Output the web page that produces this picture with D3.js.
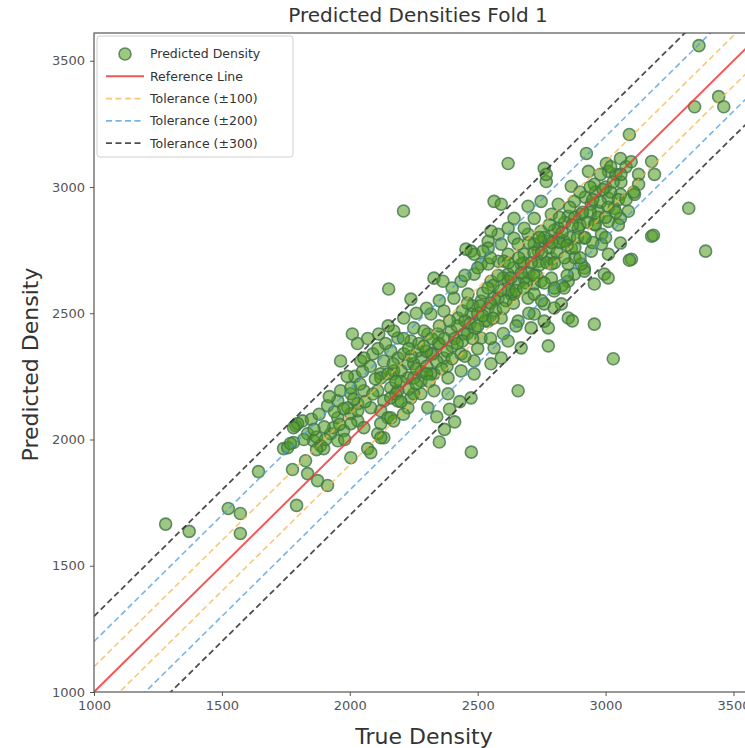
<!DOCTYPE html>
<html>
<head>
<meta charset="utf-8">
<script src="https://cdn.jsdelivr.net/npm/d3@7"></script>
<style>
  body { margin: 0; background: #fff; }
  svg { font-family: "DejaVu Sans", sans-serif; }
</style>
</head>
<body>
<svg id="chart" width="745" height="748"></svg>
<script>
// [true density, predicted density]
var densityPairs = [
  [1280,1665],[1372,1636],[1525,1727],[1572,1707],[1572,1628],[1643,1873],[1741,1964],[1780,1988],
  [1776,1881],[1792,1739],[1788,2055],[1815,2074],[1796,2063],[1780,2047],[1835,2023],[1858,1995],
  [1886,1976],[1898,1964],[1757,1968],[1768,1984],[1827,1916],[1835,1865],[1874,1837],[1913,1818],
  [2004,1928],[2070,1964],[2082,1948],[2109,2023],[2133,2007],[1925,2023],[1953,1995],[1870,2010],
  [1937,2047],[1976,2035],[1953,2086],[2004,2102],[2031,2074],[1913,2134],[1953,2153],[1964,2193],
  [2004,2181],[1992,2126],[2031,2142],[2043,2311],[2090,2339],[2010,2418],[2113,2418],[2188,2402],
  [2239,2390],[2305,2418],[2345,2379],[2133,2311],[2188,2323],[2227,2300],[2278,2323],[2325,2339],
  [2121,2260],[2168,2260],[2227,2244],[2278,2232],[2329,2260],[2109,2193],[2160,2205],[2133,2153],
  [2188,2153],[2239,2165],[2278,2181],[2121,2114],[2149,2086],[2172,2074],[2227,2126],[2305,2126],
  [1964,2311],[2055,2323],[2004,2205],[2055,2193],[2121,2244],[2172,2272],[1976,2122],[2031,2114],
  [2082,2126],[2160,2165],[2004,2063],[2055,2047],[2121,2063],[2160,2086],[2121,2007],
  [2580,2813],[2642,2797],[2697,2813],[2748,2785],[2815,2797],[2866,2758],[2474,2746],[2541,2785],
  [2513,2695],[2580,2706],[2619,2734],[2682,2734],[2737,2746],[2788,2718],[2854,2695],[2435,2627],
  [2486,2655],[2552,2627],[2619,2655],[2682,2639],[2721,2616],[2788,2639],[2854,2627],[2407,2560],
  [2462,2576],[2513,2548],[2564,2560],[2631,2576],[2697,2560],[2760,2537],[2827,2537],[2854,2481],
  [2317,2497],[2368,2509],[2423,2481],[2474,2497],[2541,2469],[2592,2481],[2658,2469],[2709,2442],
  [2776,2442],[2211,2481],[2250,2442],[2172,2430],[2290,2430],[2345,2418],[2396,2430],[2446,2418],
  [2513,2402],[2564,2363],[2619,2390],[2670,2363],[2160,2351],[2211,2339],[2266,2351],[2317,2339],
  [2368,2323],[2435,2339],[2486,2311],[2552,2300],[2592,2323],[2149,2260],[2200,2272],[2250,2244],
  [2317,2260],[2384,2244],[2435,2272],[2486,2260],[2188,2193],[2250,2181],[2329,2193],[2384,2181],
  [2776,2371],[2658,2193],[2474,2165],[2152,2596],[2239,2556],[2329,2639],[2364,2627],
  [2760,3074],[2768,3022],[3093,3208],[2925,3133],[3003,3093],[3011,3062],[3058,3113],[2933,3062],
  [3129,3050],[3180,3101],[3191,3050],[3129,3011],[2866,3003],[2956,3011],[2564,2943],[2592,2932],
  [2697,2924],[2748,2943],[2815,2932],[2878,2943],[2944,2932],[3011,2955],[3058,2971],[3113,2971],
  [2642,2876],[2721,2876],[2788,2892],[2854,2884],[2905,2892],[2972,2904],[3034,2916],[3089,2904],
  [2552,2825],[2619,2837],[2682,2837],[2748,2825],[2815,2837],[2893,2837],[2956,2853],[3011,2864],
  [3058,2876],[2541,2758],[2592,2774],[2658,2774],[2721,2774],[2776,2785],[2838,2785],[2917,2797],
  [2984,2813],[3180,2805],[3058,2778],[3101,2714],[3011,2734],[2944,2746],[2880,2720],[2878,2655],
  [2830,2610],[2799,2588],[2995,2655],[2917,2679],[2541,2695],[2603,2706],[2670,2695],[2737,2706],
  [2788,2695],[2619,2627],[2748,2627],[2642,2576],[2721,2576],
  [3365,3560],[3348,3318],[3442,3358],[3462,3318],[3325,2916],[3391,2746],[3187,2809],[3093,2710],
  [3010,2640],[2956,2457],[2870,2470],[2917,2667],[2956,2616],[2838,2600],[2984,2774],[2905,2695],
  [2799,2521],[2760,2469],[2721,2497],[3030,2320],[2475,1950],[2619,3093],[2210,2905],[2768,3050],
  [2486,2734],[2454,2754],[2521,2746],
  [2340,2090],[2390,2120],[2430,2150],[2370,2040],[2410,2070],[2350,1990],
  [2250,2300],[2280,2270],[2300,2350],[2350,2380],[2370,2400],[2400,2370],[2420,2450],[2450,2470],
  [2460,2420],[2480,2530],[2500,2500],[2520,2580],[2540,2520],[2560,2610],[2580,2560],[2600,2640],
  [2620,2590],[2640,2680],[2660,2620],[2680,2700],[2700,2660],[2720,2740],[2740,2690],[2760,2800],
  [2780,2760],[2800,2830],[2820,2780],[2840,2860],[2860,2800],[2880,2880],[2900,2850],[2920,2960],
  [2940,2900],[2960,2980],[2980,2940],[3000,3000],[3020,2980],[3040,3050],[3060,3020],[3080,3080],
  [2200,2230],[2230,2200],[2180,2230],[2260,2280],[2300,2290],[2340,2310],[2380,2350],[2410,2400],
  [2440,2390],[2470,2460],[2490,2440],[2510,2530],[2530,2470],[2550,2540],[2570,2510],[2590,2590],
  [2610,2550],[2630,2640],[2650,2590],[2670,2660],[2690,2620],[2710,2700],[2730,2650],[2750,2740],
  [2770,2700],[2790,2780],[2810,2740],[2830,2820],[2850,2770],[2870,2850],[2890,2800],[2910,2900],
  [2930,2860],[2950,2950],[2970,2880],[2990,2990],[3010,2920],[3030,3020],[3050,2950],
  [2400,2600],[2450,2650],[2350,2550],[2300,2520],[2260,2500],[2500,2680],[2550,2720],
  [2600,2420],[2650,2450],[2700,2500],[2750,2550],[2800,2600],[2850,2650],[2900,2720],[2950,2780],
  [3000,2800],[3050,2850],[2550,2400],[2500,2360],[2450,2330],
  [2210,2400],[2240,2330],[2270,2380],[2300,2260],[2320,2400],[2350,2450],[2380,2290],[2390,2470],
  [2230,2360],[2290,2370],[2260,2220],[2310,2230],[2360,2280],[2400,2320],[2420,2380],[2440,2510],
  [2460,2540],[2480,2400],[2500,2450],[2520,2490],[2540,2600],[2560,2480],[2580,2650],[2600,2520],
  [2620,2700],[2640,2540],[2660,2720],[2680,2600],[2700,2780],[2720,2650],[2740,2800],[2760,2620],
  [2780,2850],[2800,2700],[2820,2880],[2840,2720],[2860,2920],[2880,2760],[2900,2980],[2920,2800],
  [2940,3000],[2960,2850],[2980,3050],[3000,2880],[3020,3080],[3040,2900],[3060,3050],[3080,2950],
  [3100,3100],[3110,2980],
  [2020,2250],[2050,2270],[2080,2290],[2100,2240],[2060,2150],[2090,2180],[2110,2360],[2140,2380],
  [2170,2300],[2030,2380],[2070,2400],[2150,2450],[1990,2250],[2015,2160],[2040,2220],[2180,2180],
  [2200,2150],[2210,2100],
  [1850,2080],[1880,2100],[1900,2050],[1920,2170],[1940,2110],[1870,1960],[1905,2000],[1960,2060],
  [1980,2000],[1820,2000],[1860,2040]
];

var xTicks = [1000, 1500, 2000, 2500, 3000, 3500];
var yTicks = [1000, 1500, 2000, 2500, 3000, 3500];
var tolerances = [100, 200, 300];
var legendLabels = ["Predicted Density", "Reference Line", "Tolerance (\u00b1100)", "Tolerance (\u00b1200)", "Tolerance (\u00b1300)"];

var svg = d3.select("#chart"),
    margin = {top: 33, right: 0, bottom: 56, left: 94},
    width = 745 - margin.left - margin.right,
    height = 748 - margin.top - margin.bottom,
    g = svg.append("g").attr("transform", "translate(" + margin.left + "," + margin.top + ")");

var x = d3.scaleLinear().domain([1000, 3545]).range([0, width]);
var y = d3.scaleLinear().domain([1000, 3610]).range([height, 0]);

var ptFill = "#4f9a1c", ptStroke = "#3f7548";

g.append("clipPath").attr("id", "plot-clip")
  .append("rect").attr("width", width).attr("height", height);

var plot = g.append("g").attr("clip-path", "url(#plot-clip)");

plot.selectAll("circle.pt")
  .data(densityPairs)
  .enter().append("circle")
    .attr("class", "pt")
    .attr("cx", function(d) { return x(d[0]); })
    .attr("cy", function(d) { return y(d[1]); })
    .attr("r", 6)
    .attr("fill", ptFill)
    .attr("fill-opacity", 0.55)
    .attr("stroke", ptStroke)
    .attr("stroke-opacity", 0.8)
    .attr("stroke-width", 1.6);

var lineStyles = [
  {k: 0, color: "#ef3b3b", dash: null, w: 2, op: 0.85},
  {k: 100, color: "#f6b64e", dash: "6,3.5", w: 1.6, op: 0.75},
  {k: -100, color: "#f6b64e", dash: "6,3.5", w: 1.6, op: 0.75},
  {k: 200, color: "#4a9bdc", dash: "6,3.5", w: 1.6, op: 0.75},
  {k: -200, color: "#4a9bdc", dash: "6,3.5", w: 1.6, op: 0.75},
  {k: 300, color: "#2f2f2f", dash: "6,3.5", w: 1.8, op: 0.85},
  {k: -300, color: "#2f2f2f", dash: "6,3.5", w: 1.8, op: 0.85}
];

plot.selectAll("line.ref")
  .data(lineStyles)
  .enter().append("line")
    .attr("class", "ref")
    .attr("x1", x(1000)).attr("y1", function(d) { return y(1000 + d.k); })
    .attr("x2", x(3700)).attr("y2", function(d) { return y(3700 + d.k); })
    .attr("stroke", function(d) { return d.color; })
    .attr("stroke-width", function(d) { return d.w; })
    .attr("stroke-opacity", function(d) { return d.op; })
    .attr("stroke-dasharray", function(d) { return d.dash; });

// frame
g.append("rect").attr("width", width + 2).attr("height", height)
  .attr("fill", "none").attr("stroke", "#555").attr("stroke-width", 1.2);

var xAxis = g.append("g")
  .attr("transform", "translate(0," + height + ")")
  .call(d3.axisBottom(x).tickValues(xTicks).tickSize(4).tickPadding(5).tickFormat(d3.format("d")));
var yAxis = g.append("g")
  .call(d3.axisLeft(y).tickValues(yTicks).tickSize(4).tickPadding(5).tickFormat(d3.format("d")));

[xAxis, yAxis].forEach(function(a) {
  a.select(".domain").remove();
  a.selectAll("line").attr("stroke", "#555");
  a.selectAll("text").attr("fill", "#555").style("font-size", "13px").style("font-family", "DejaVu Sans, sans-serif");
});

svg.append("text")
  .attr("x", 418).attr("y", 22)
  .attr("text-anchor", "middle")
  .attr("fill", "#333")
  .style("font-size", "20px")
  .text("Predicted Densities Fold 1");

svg.append("text")
  .attr("x", 424).attr("y", 744)
  .attr("text-anchor", "middle")
  .attr("fill", "#333")
  .style("font-size", "22px")
  .text("True Density");

svg.append("text")
  .attr("transform", "translate(38," + (margin.top + height / 2 + 2) + ") rotate(-90)")
  .attr("text-anchor", "middle")
  .attr("fill", "#333")
  .style("font-size", "22px")
  .text("Predicted Density");

// legend
var legend = g.append("g").attr("transform", "translate(3,3)");
legend.append("rect")
  .attr("width", 196).attr("height", 121).attr("rx", 3)
  .attr("fill", "#fff").attr("fill-opacity", 0.85)
  .attr("stroke", "#d0d0d0");

var legendItems = legend.selectAll(".legend")
  .data(legendLabels)
  .enter().append("g")
    .attr("class", "legend")
    .attr("transform", function(d, i) { return "translate(0," + (18 + i * 22.3) + ")"; });

legendItems.each(function(d, i) {
  var item = d3.select(this);
  if (i === 0) {
    item.append("circle").attr("cx", 28).attr("cy", 0).attr("r", 6)
      .attr("fill", ptFill).attr("fill-opacity", 0.55)
      .attr("stroke", ptStroke).attr("stroke-opacity", 0.8).attr("stroke-width", 1.6);
  } else {
    var s = lineStyles[i === 1 ? 0 : (i - 1) * 2];
    item.append("line").attr("x1", 9).attr("x2", 47).attr("y1", 0).attr("y2", 0)
      .attr("stroke", s.color).attr("stroke-width", s.w)
      .attr("stroke-opacity", s.op).attr("stroke-dasharray", s.dash);
  }
});

legendItems.append("text")
  .attr("x", 53).attr("y", 0).attr("dy", "0.35em")
  .attr("fill", "#333")
  .style("font-size", "12.5px")
  .text(function(d) { return d; });
</script>
</body>
</html>
